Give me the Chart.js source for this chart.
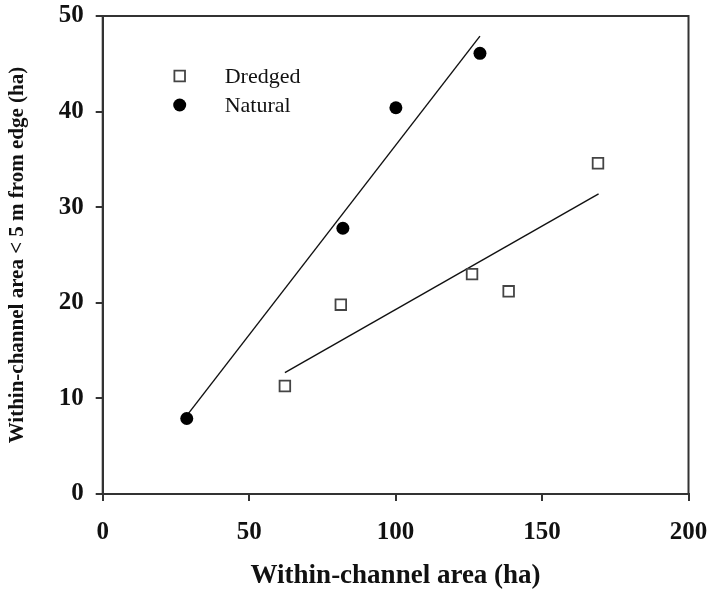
<!DOCTYPE html>
<html>
<head>
<meta charset="utf-8">
<script src="https://cdn.jsdelivr.net/npm/chart.js@4/dist/chart.umd.min.js"></script>
<style>
  html, body { margin: 0; padding: 0; background: #fff; }
  #wrap { width: 711px; height: 590px; position: relative; }
</style>
</head>
<body>
<div id="wrap"><canvas id="c" width="711" height="590"></canvas></div>
<script>
// ---- data ----
const dredgedX = [62.2, 81.3, 126.1, 138.6, 169.1];
const dredgedY = [11.3, 19.8, 23.0, 21.2, 34.6];
const naturalX = [28.7, 82.0, 100.1, 128.8];
const naturalY = [7.9, 27.8, 40.4, 46.1];
// fitted lines (endpoints)
const dredgedLineX = [62.2, 169.3];
const dredgedLineY = [12.7, 31.4];
const naturalLineX = [28.7, 128.8];
const naturalLineY = [8.2, 47.9];
const xTicks = [0, 50, 100, 150, 200];
const yTicks = [0, 10, 20, 30, 40, 50];
const seriesNames = ['Dredged', 'Natural'];
const xTitle = 'Within-channel area (ha)';
const yTitle = 'Within-channel area < 5 m from edge (ha)';

const pts = (xs, ys) => xs.map((x, i) => ({x: x, y: ys[i]}));
const SERIF = '"Liberation Serif", "Times New Roman", serif';

const boxPlugin = {
  id: 'box',
  afterDraw(chart) {
    const {ctx, chartArea: a} = chart;
    ctx.save();
    ctx.strokeStyle = '#333';
    ctx.lineWidth = 2;
    ctx.strokeRect(a.left, a.top, a.right - a.left, a.bottom - a.top);
    ctx.restore();
  }
};

const legendPlugin = {
  id: 'innerLegend',
  afterDatasetsDraw(chart) {
    const {ctx, chartArea: a} = chart;
    const mx = a.left + 77, tx = a.left + 122;
    const rows = [
      {y: a.top + 60, ds: chart.data.datasets[0]},
      {y: a.top + 89, ds: chart.data.datasets[1]}
    ];
    ctx.save();
    rows.forEach((r, i) => {
      ctx.fillStyle = r.ds.backgroundColor;
      ctx.strokeStyle = r.ds.borderColor;
      ctx.lineWidth = r.ds.borderWidth;
      Chart.helpers.drawPoint(ctx, {pointStyle: r.ds.pointStyle, radius: r.ds.pointRadius, borderWidth: r.ds.borderWidth}, mx, r.y);
      ctx.fillStyle = '#111';
      ctx.font = '22px ' + SERIF;
      ctx.textBaseline = 'middle';
      ctx.textAlign = 'left';
      ctx.fillText(seriesNames[i], tx, r.y + 1);
    });
    ctx.restore();
  }
};

new Chart(document.getElementById('c'), {
  type: 'scatter',
  data: {
    datasets: [
      {
        label: seriesNames[0],
        data: pts(dredgedX, dredgedY),
        pointStyle: 'rect',
        pointRadius: 7.5,
        backgroundColor: '#fff',
        borderColor: '#444',
        borderWidth: 1.8
      },
      {
        label: seriesNames[1],
        data: pts(naturalX, naturalY),
        pointStyle: 'circle',
        pointRadius: 6.5,
        backgroundColor: '#000',
        borderColor: '#000',
        borderWidth: 0
      },
      {
        label: 'Dredged fit',
        data: pts(dredgedLineX, dredgedLineY),
        showLine: true,
        pointRadius: 0,
        borderColor: '#111',
        borderWidth: 1.4,
        fill: false
      },
      {
        label: 'Natural fit',
        data: pts(naturalLineX, naturalLineY),
        showLine: true,
        pointRadius: 0,
        borderColor: '#111',
        borderWidth: 1.4,
        fill: false
      }
    ]
  },
  options: {
    responsive: false,
    animation: false,
    layout: { padding: { top: 16, right: 22.5, bottom: 0, left: 0 } },
    plugins: {
      legend: { display: false },
      tooltip: { enabled: false }
    },
    scales: {
      x: {
        type: 'linear',
        min: 0, max: 200,
        afterBuildTicks: s => { s.ticks = xTicks.map(v => ({value: v})); },
        afterFit: s => { s.height = 96; s.paddingLeft = 0; s.paddingRight = 0; },
        grid: { drawOnChartArea: false, drawTicks: true, tickLength: 7, color: '#333', lineWidth: 2 },
        border: { display: true, color: '#333', width: 2 },
        ticks: { color: '#111', font: { family: SERIF, size: 25, weight: 'bold' }, padding: 17, maxRotation: 0 },
        title: { display: true, text: xTitle, color: '#111', font: { family: SERIF, size: 27, weight: 'bold', lineHeight: 1 }, padding: { top: 0, bottom: 0 } }
      },
      y: {
        type: 'linear',
        min: 0, max: 50,
        afterBuildTicks: s => { s.ticks = yTicks.map(v => ({value: v})); },
        afterFit: s => { s.width = 102.7; s.paddingTop = 0; s.paddingBottom = 0; },
        grid: { drawOnChartArea: false, drawTicks: true, tickLength: 7, color: '#333', lineWidth: 2 },
        border: { display: true, color: '#333', width: 2 },
        ticks: { color: '#111', font: { family: SERIF, size: 25, weight: 'bold' }, padding: 12 },
        title: { display: true, text: yTitle, color: '#111', font: { family: SERIF, size: 21, weight: 'bold', lineHeight: 1 }, padding: { top: 7.5, bottom: 0 } }
      }
    }
  },
  plugins: [boxPlugin, legendPlugin]
});
</script>
</body>
</html>
